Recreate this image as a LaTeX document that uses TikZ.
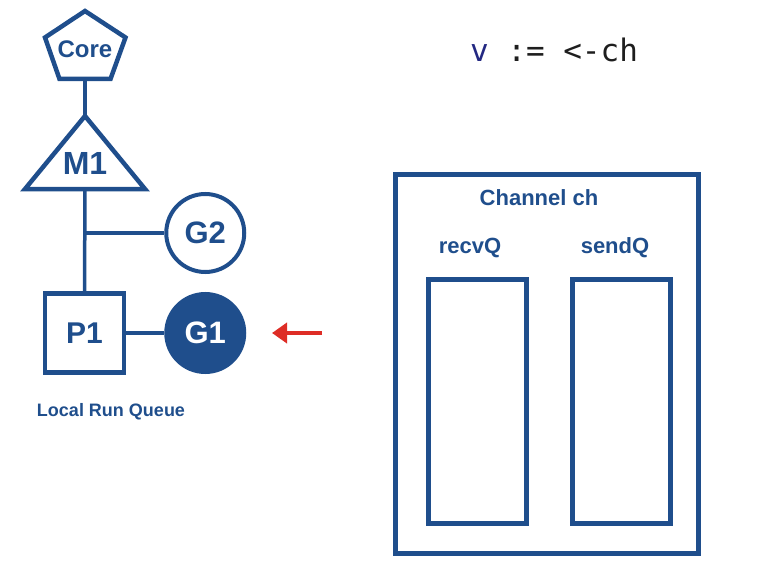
\documentclass[tikz,border=0pt]{standalone}
\usepackage{fontspec}
\setmainfont{Liberation Sans}
\setmonofont{DejaVu Sans Mono}
\usetikzlibrary{positioning, calc, shapes.geometric, arrows.meta}

\definecolor{goblue}{RGB}{31,78,140}
\definecolor{vblue}{RGB}{35,40,130}
\definecolor{codeblack}{RGB}{30,30,30}
\definecolor{arrowred}{RGB}{222,45,38}
\newcommand{\bigbold}[1]{\fontsize{#1}{#1}\selectfont\bfseries}

\tikzset{
    link/.style={draw=goblue, line width=3.5pt},
    gor/.style={circle, draw=goblue, line width=4pt, minimum size=78pt, inner sep=0pt, text=goblue, font=\bigbold{31pt}},
    qbox/.style={rectangle, draw=goblue, line width=5pt, minimum width=98pt, minimum height=244pt},
    bluetext/.style={text=goblue, font=\bigbold{#1}},
}

\begin{document}
\begin{tikzpicture}[x=1pt, y=-1pt]
    \useasboundingbox (0,0) rectangle (768,575);

    % the Core pentagon
    \node[bluetext=24pt] (core) at (85,49) {Core};
    \coordinate (corebottom) at (85,79);
    \draw[goblue, line width=4.5pt] (85,11) -- (125.5,37.5) -- (110.5,79) -- (59.5,79) -- (45,37.5) -- cycle;

    % the M1 triangle
    \coordinate (m1apex) at (85,116);
    \coordinate (m1base) at (85,189);
    \draw[goblue, line width=4.5pt] (m1apex) -- (25,189) -- (145,189) -- cycle;
    \node[bluetext=32pt] (m1) at (85,163) {M1};

    \node[rectangle, draw=goblue, line width=4.5pt, minimum size=79pt, inner sep=0pt, bluetext=30pt] (p1) at (84.5,333) {P1};
    \node[gor, fill=goblue, text=white, right=38pt of p1] (g1) {G1};
    \node[gor, above=18pt of g1] (g2) {G2};

    \draw[link] (corebottom) -- (m1apex);
    \draw[link] (m1base) -- (p1.north);
    \draw[link] (m1base |- g2.west) -- (g2.west);
    \draw[link] (p1.east) -- (g1.west);

    \node[bluetext=18pt] (lrq) at (111,412) {Local Run Queue};

    \coordinate (arrowfrom) at (322,333);
    \coordinate (arrowto) at (272,333);
    \draw[arrowred, line width=4.5pt, -{Triangle[length=15pt, width=20pt]}] (arrowfrom) -- (arrowto);

    \node[font=\ttfamily\fontsize{31pt}{31pt}\selectfont, text=codeblack] (code) at (554,50) {{\color{vblue}v} := <-ch};

    % channel
    \node[rectangle, draw=goblue, line width=5pt, minimum width=303pt, minimum height=379pt] (chan) at (547,364) {};
    \node[bluetext=22pt] (chname) at (539,198) {Channel ch};
    \node[qbox] (recvq) at (477.5,401.5) {};
    \node[qbox] (sendq) at (621.5,401.5) {};
    \node[bluetext=22pt] (recvlabel) at (470,248) {recvQ};
    \node[bluetext=22pt] (sendlabel) at (615,248) {sendQ};

\end{tikzpicture}
\end{document}
